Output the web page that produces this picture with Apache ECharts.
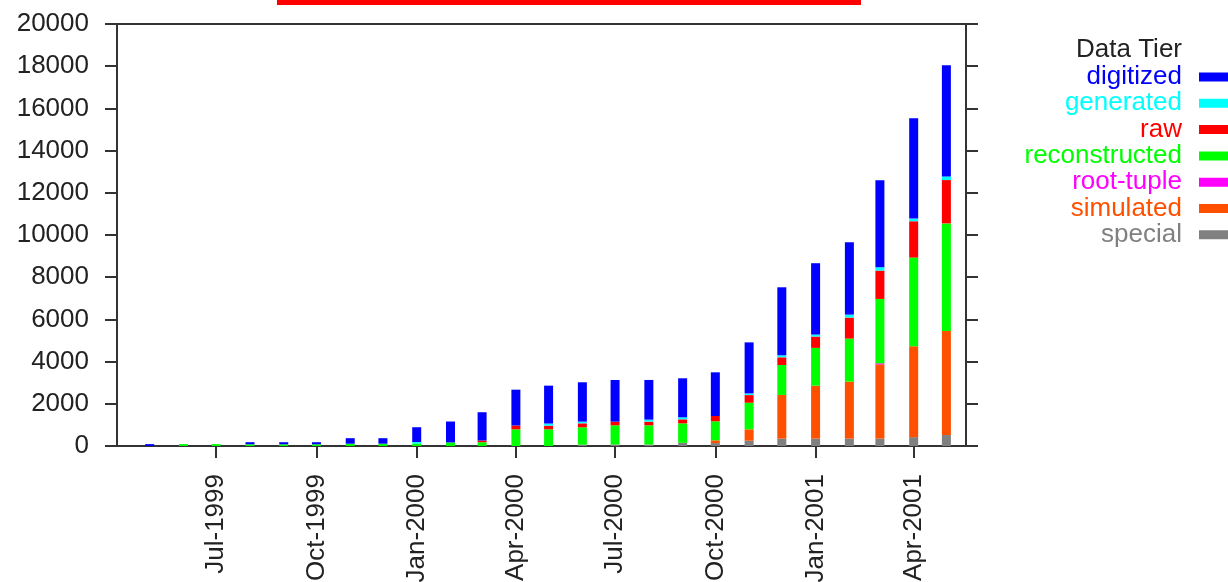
<!DOCTYPE html>
<html>
<head>
<meta charset="utf-8">
<script src="https://cdn.jsdelivr.net/npm/echarts@6/dist/echarts.min.js"></script>
<style>
  html, body { margin: 0; padding: 0; background: #ffffff; }
  #chart { width: 1228px; height: 582px; }
</style>
</head>
<body>
<div id="chart"></div>
<script>
// ---- data ----
const months = ['May-1999','Jun-1999','Jul-1999','Aug-1999','Sep-1999','Oct-1999','Nov-1999','Dec-1999',
  'Jan-2000','Feb-2000','Mar-2000','Apr-2000','May-2000','Jun-2000','Jul-2000','Aug-2000','Sep-2000','Oct-2000',
  'Nov-2000','Dec-2000','Jan-2001','Feb-2001','Mar-2001','Apr-2001','May-2001'];
const tickLabels = ['Jul-1999','Oct-1999','Jan-2000','Apr-2000','Jul-2000','Oct-2000','Jan-2001','Apr-2001'];
const xRange = ['1999-04-01', '2001-05-19'];

const special       = [0,0,0,0,0,0,0,0, 0,0,0,0,0,60,70,70,150,140, 250,350,350,350,350,420,520];
const simulated     = [0,0,0,0,0,0,0,0, 0,0,0,0,0,0,0,0,0,130, 540,2070,2510,2700,3520,4310,4930];
const rootTuple     = [0,0,0,0,0,0,0,0, 0,0,0,0,0,0,0,0,0,0, 0,0,0,0,50,0,0];
const reconstructed = [0,90,90,80,80,80,110,110, 120,170,180,790,790,825,910,910,924,900, 1260,1420,1790,2040,3050,4200,5100];
const raw           = [0,0,0,0,0,0,0,0, 0,0,80,180,175,190,173,175,190,252, 363,364,537,995,1343,1722,2054];
const generated     = [0,0,0,0,0,0,0,0, 70,0,0,0,100,80,0,95,95,0, 80,95,95,142,158,126,174];
const digitized     = [90,0,0,100,100,100,260,260, 700,990,1340,1700,1795,1865,1975,1880,1850,2070, 2418,3223,3381,3429,4124,4756,5262];

// ---- helpers ----
const MON = ['Jan','Feb','Mar','Apr','May','Jun','Jul','Aug','Sep','Oct','Nov','Dec'];
const DAY = 86400000;
// days since the epoch, measured in UTC so spacing follows the calendar exactly
function monthDay(label) {
  const [m, y] = label.split('-');
  return Date.UTC(Number(y), MON.indexOf(m), 1) / DAY;
}
function isoDay(s) {
  const [y, m, d] = s.split('-').map(Number);
  return Date.UTC(y, m - 1, d) / DAY;
}
const tickPos = tickLabels.map(monthDay);

const FONT = 'Liberation Sans, Arial, Helvetica, sans-serif';
const AXIS = '#333333';
const TXT = '#222222';

const seriesDefs = [
  { name: 'special',       data: special,       color: '#808080' },
  { name: 'simulated',     data: simulated,     color: '#ff5000' },
  { name: 'root-tuple',    data: rootTuple,     color: '#ff00ff' },
  { name: 'reconstructed', data: reconstructed, color: '#00ff00' },
  { name: 'raw',           data: raw,           color: '#ff0000' },
  { name: 'generated',     data: generated,     color: '#00ffff' },
  { name: 'digitized',     data: digitized,     color: '#0000ff' }
];

const chart = echarts.init(document.getElementById('chart'), null, { renderer: 'canvas' });

const yAxisCommon = {
  type: 'value', min: 0, max: 20000, interval: 2000,
  axisLine: { show: true, lineStyle: { color: AXIS, width: 2 } },
  axisTick: { show: true, length: 12, lineStyle: { color: AXIS, width: 2 } },
  splitLine: { show: false }
};

chart.setOption({
  animation: false,
  backgroundColor: '#ffffff',
  title: {
    text: 'Data Tier', right: 46, top: 37, padding: 0,
    textStyle: { fontSize: 26, fontWeight: 'normal', color: TXT, fontFamily: FONT }
  },
  legend: {
    orient: 'vertical', align: 'right', right: -5, top: 64, padding: 0,
    itemWidth: 34, itemHeight: 9, itemGap: 0.3, icon: 'rect', selectedMode: false,
    textStyle: { fontSize: 26, lineHeight: 26, fontFamily: FONT, padding: [0, 12, 0, 0] },
    data: seriesDefs.slice().reverse().map(s => ({ name: s.name, textStyle: { color: s.color } }))
  },
  graphic: [{
    type: 'rect', shape: { x: 277, y: 0, width: 584, height: 5 }, style: { fill: '#ff0000' }, silent: true
  }],
  grid: {
    left: 117, right: 262, top: 24, bottom: 136, containLabel: false, outerBoundsMode: 'none',
    show: true, borderColor: AXIS, borderWidth: 2
  },
  xAxis: {
    type: 'value', min: isoDay(xRange[0]), max: isoDay(xRange[1]),
    axisLine: { show: true, onZero: false, lineStyle: { color: AXIS, width: 2 } },
    axisTick: { show: true, customValues: tickPos, length: 12, lineStyle: { color: AXIS, width: 2 } },
    axisLabel: {
      customValues: tickPos, rotate: 90, margin: 28, fontSize: 26, color: TXT, fontFamily: FONT,
      formatter: v => { const i = tickPos.indexOf(Math.round(v)); return i >= 0 ? tickLabels[i] : ''; }
    },
    splitLine: { show: false }
  },
  yAxis: [
    Object.assign({}, yAxisCommon, {
      position: 'left',
      axisLabel: { show: true, margin: 28, fontSize: 26, color: TXT, fontFamily: FONT,
        formatter: v => String(v) }
    }),
    Object.assign({}, yAxisCommon, { position: 'right', axisLabel: { show: false } })
  ],
  series: seriesDefs.map(s => ({
    name: s.name, type: 'bar', stack: 'tier', barWidth: 9, yAxisIndex: 0,
    itemStyle: { color: s.color },
    silent: true,
    // value first so the stack is applied to the y dimension
    encode: { x: 1, y: 0 },
    data: months.map((m, i) => [s.data[i], monthDay(m)])
  }))
});
</script>
</body>
</html>
